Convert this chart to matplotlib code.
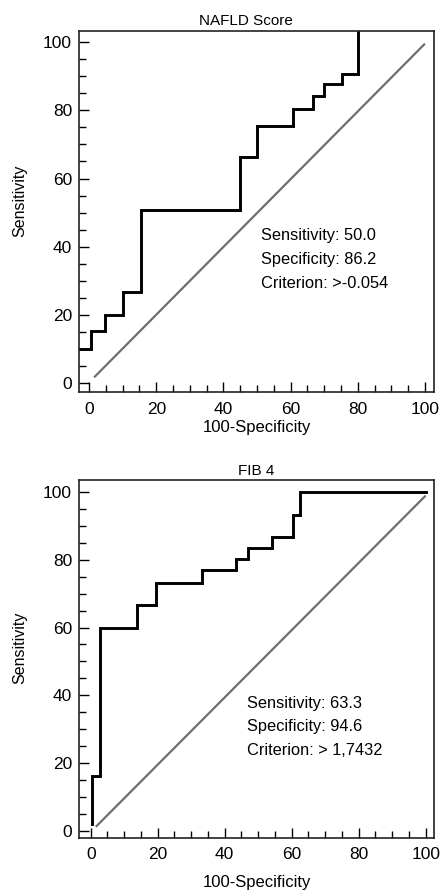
import numpy as np
import matplotlib
matplotlib.use("Agg")
import matplotlib.pyplot as plt
from matplotlib.ticker import MultipleLocator

plt.rcParams['font.family'] = ['Liberation Sans Narrow', 'Liberation Sans', 'DejaVu Sans']

#__ ROC data ___________________________________________
# NAFLD Score: step curve (100-Specificity, Sensitivity)
nafld_x = [-3, 0.5, 0.5, 4.6, 4.6, 10.2, 10.2, 15.5, 15.5, 44.8, 44.8, 49.9, 49.9,
           60.6, 60.6, 66.8, 66.8, 70.0, 70.0, 75.2, 75.2, 80.0, 80.0]
nafld_y = [10.2, 10.2, 15.3, 15.3, 20.0, 20.0, 26.8, 26.8, 50.7, 50.7, 66.4, 66.4, 75.3,
           75.3, 80.5, 80.5, 84.1, 84.1, 87.8, 87.8, 90.6, 90.6, 110]
nafld_diag = ([1.5, 100], [1.8, 99.5])
nafld_text = ["Sensitivity: 50.0", "Specificity: 86.2", "Criterion: >-0.054"]

# FIB 4
fib_x = [0.3, 0.3, 2.9, 2.9, 13.8, 13.8, 19.4, 19.4, 33.2, 33.2, 43.3, 43.3, 47.0, 47.0,
         54.2, 54.2, 60.3, 60.3, 62.5, 62.5, 100]
fib_y = [1.9, 16.2, 16.2, 59.8, 59.8, 66.6, 66.6, 73.3, 73.3, 76.9, 76.9, 80.3, 80.3, 83.5,
         83.5, 86.8, 86.8, 93.2, 93.2, 100, 100]
fib_diag = ([1.5, 100], [1.1, 99])
fib_text = ["Sensitivity: 63.3", "Specificity: 94.6", "Criterion: > 1,7432"]

fig = plt.figure(figsize=(4.44, 8.94), dpi=100)
ax1 = fig.add_axes([0.178, 0.5615, 0.7995, 0.4038])
ax2 = fig.add_axes([0.178, 0.063, 0.7995, 0.400])

def roc_panel(ax, x, y, diag, lines, title, xlim, ylim, txt_x, txt_y, title_x, xlab_pad):
    ax.plot(diag[0], diag[1], color='#6e6e6e', lw=1.6, solid_capstyle='butt')
    ax.plot(x, y, color='black', lw=2.1, solid_joinstyle='miter')
    ax.set_xlim(*xlim)
    ax.set_ylim(*ylim)
    ax.xaxis.set_major_locator(MultipleLocator(20))
    ax.xaxis.set_minor_locator(MultipleLocator(5))
    ax.yaxis.set_major_locator(MultipleLocator(20))
    ax.yaxis.set_minor_locator(MultipleLocator(5))
    ax.tick_params(which='major', direction='in', length=7, width=1.0, labelsize=12.5, pad=5)
    ax.tick_params(which='minor', direction='in', length=5, width=1.0)
    ax.tick_params(axis='x', which='major', pad=7)
    ax.tick_params(top=False, right=False)
    for s in ax.spines.values():
        s.set_linewidth(1.2)
        s.set_color('#222222')
    ax.set_title(title, fontsize=11, x=title_x, pad=4)
    ax.set_xlabel("100-Specificity", fontsize=12, labelpad=xlab_pad)
    ax.set_ylabel("Sensitivity", fontsize=11.5)
    for i, t in enumerate(lines):
        ax.text(txt_x, txt_y[i], t, fontsize=11.8, va='center', ha='left')

roc_panel(ax1, nafld_x, nafld_y, nafld_diag, nafld_text, "NAFLD Score",
          (-3, 102.7), (-2.5, 103.2), 51.2, [43.4, 36.3, 29.3], 0.47, 2)
roc_panel(ax2, fib_x, fib_y, fib_diag, fib_text, "FIB 4",
          (-3.5, 102.5), (-2.1, 103.6), 46.7, [37.6, 30.7, 23.8], 0.5, 9)
ax1.yaxis.set_label_coords(-0.145, 0.53)
ax2.yaxis.set_label_coords(-0.145, 0.53)

fig.savefig("out.png", dpi=100)
